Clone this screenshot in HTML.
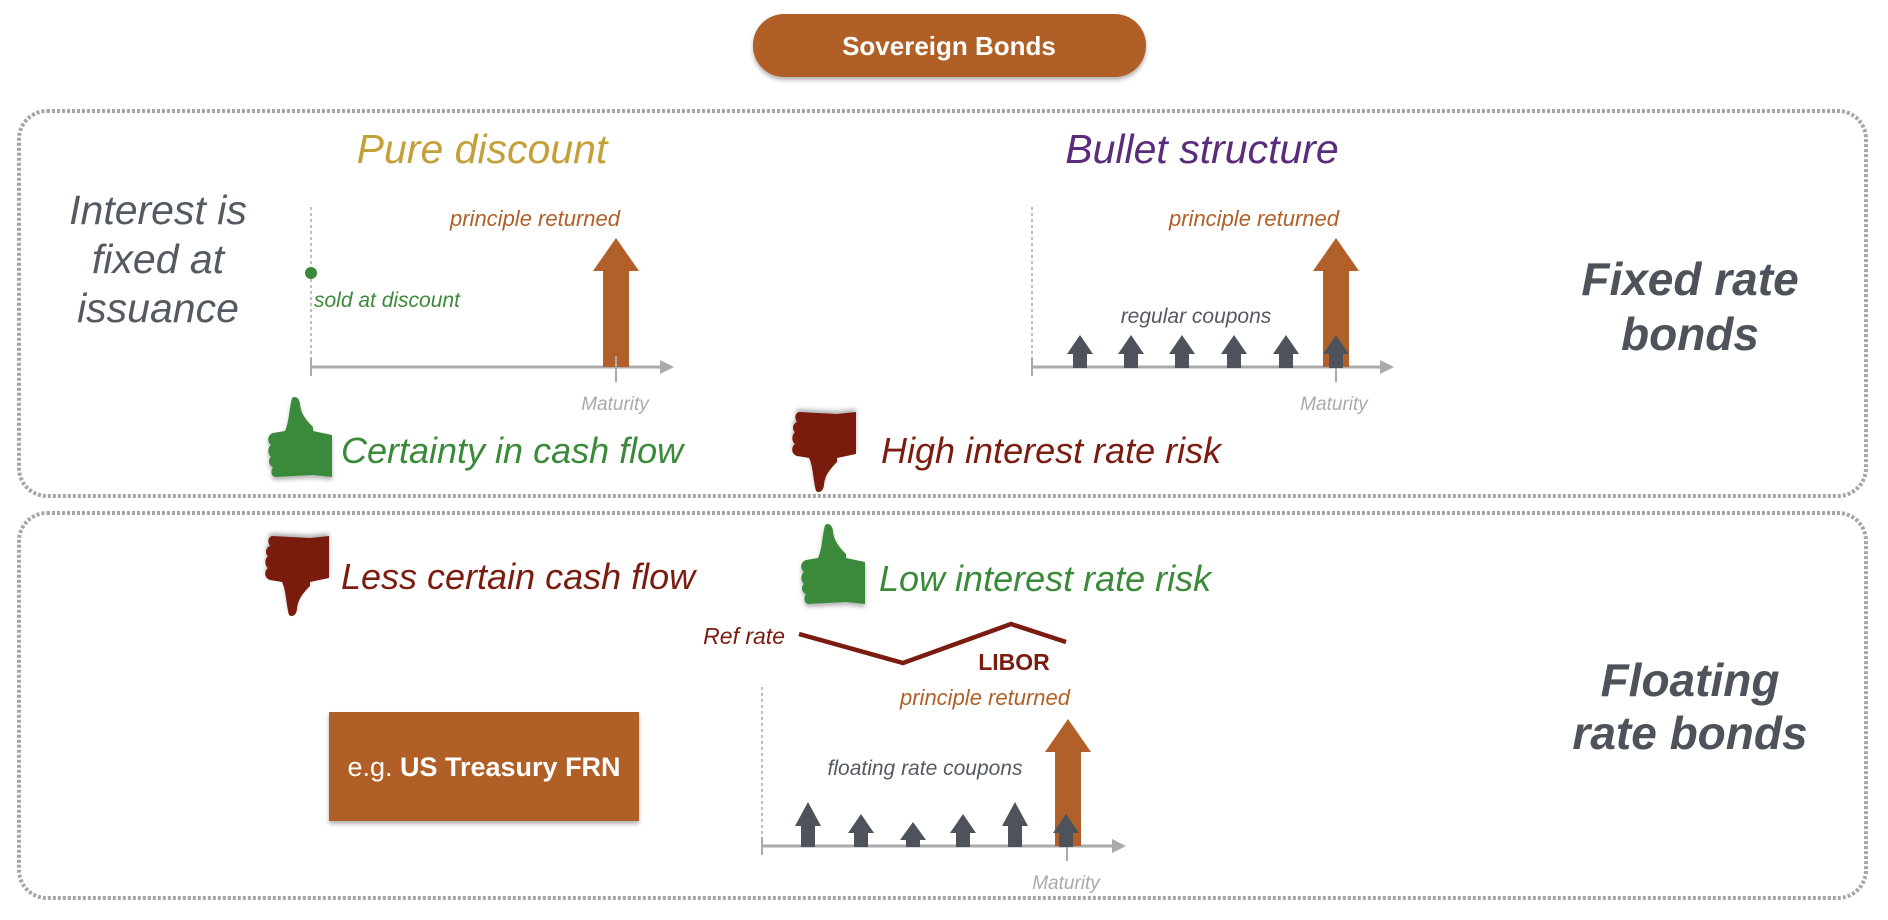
<!DOCTYPE html>
<html><head><meta charset="utf-8"><style>
html,body{margin:0;padding:0;background:#fff;}
svg{display:block;}
text{font-family:"Liberation Sans",Arial,sans-serif;}
.it{font-style:italic;}
</style></head><body>
<svg width="1888" height="920" viewBox="0 0 1888 920" xmlns="http://www.w3.org/2000/svg">
<defs>
<filter id="sh" x="-10%" y="-10%" width="120%" height="140%"><feDropShadow dx="0" dy="3" stdDeviation="2" flood-color="#000" flood-opacity="0.3"/></filter>
<path id="tup" d="M27,3 C31,0 35,4 35,10 C36,18 40,24 48,32 L48,36 L67,40 L67,82 L48,80 L10,82 C5,80 6,75 8,72 C3,70 3,64 6,62 C2,58 3,52 6,50 C2,47 2,40 8,38 L20,36 C24,28 24,15 27,3 Z"/>
<g id="coup"><polygon points="0,-33 13,-14 7,-14 7,0 -7,0 -7,-14 -13,-14" fill="#4e535b"/></g>
</defs>

<!-- title -->
<rect x="753" y="14" width="393" height="63" rx="31" fill="#b06028" filter="url(#sh)"/>
<text x="949" y="55" font-size="26" font-weight="bold" fill="#fff" text-anchor="middle">Sovereign Bonds</text>

<!-- boxes -->
<rect x="19" y="111" width="1847" height="385" rx="28" fill="none" stroke="#a6a6a6" stroke-width="4" stroke-dasharray="3 2"/>
<rect x="19" y="513" width="1847" height="385" rx="28" fill="none" stroke="#a6a6a6" stroke-width="4" stroke-dasharray="3 2"/>

<!-- top headings -->
<text x="482" y="163" class="it" font-size="41" fill="#c3a03a" text-anchor="middle">Pure discount</text>
<text x="1202" y="163" class="it" font-size="41" fill="#5a2d7c" text-anchor="middle">Bullet structure</text>
<g class="it" font-size="41" fill="#555a62" text-anchor="middle">
<text x="158" y="224">Interest is</text>
<text x="158" y="273">fixed at</text>
<text x="158" y="322">issuance</text>
</g>
<g font-weight="bold" class="it" font-size="46" fill="#4e535b" text-anchor="middle">
<text x="1690" y="295">Fixed rate</text>
<text x="1690" y="350">bonds</text>
<text x="1690" y="696">Floating</text>
<text x="1690" y="749">rate bonds</text>
</g>

<!-- pure discount chart -->
<line x1="311" y1="207" x2="311" y2="367" stroke="#aaa" stroke-width="1.5" stroke-dasharray="3 3"/>
<line x1="311" y1="367" x2="664" y2="367" stroke="#aaa" stroke-width="3"/>
<polygon points="674,367 660,360 660,374" fill="#aaa"/>
<line x1="311" y1="358" x2="311" y2="376" stroke="#aaa" stroke-width="2"/>
<polygon points="616,238 639,271 629,271 629,367 603,367 603,271 593,271" fill="#b06028"/>
<line x1="616" y1="356" x2="616" y2="382" stroke="#aaa" stroke-width="2"/>
<circle cx="311" cy="273" r="6" fill="#3a8a3a"/>
<text x="314" y="307" class="it" font-size="21" fill="#3a8a3a">sold at discount</text>
<text x="535" y="226" class="it" font-size="22" fill="#b06028" text-anchor="middle">principle returned</text>
<text x="615" y="410" class="it" font-size="19" fill="#aaa" text-anchor="middle">Maturity</text>

<!-- bullet chart -->
<line x1="1032" y1="207" x2="1032" y2="367" stroke="#aaa" stroke-width="1.5" stroke-dasharray="3 3"/>
<line x1="1032" y1="367" x2="1384" y2="367" stroke="#aaa" stroke-width="3"/>
<polygon points="1394,367 1380,360 1380,374" fill="#aaa"/>
<line x1="1032" y1="358" x2="1032" y2="376" stroke="#aaa" stroke-width="2"/>
<polygon points="1336,238 1359,271 1349,271 1349,367 1323,367 1323,271 1313,271" fill="#b06028"/>
<line x1="1336" y1="356" x2="1336" y2="382" stroke="#aaa" stroke-width="2"/>
<use href="#coup" x="1080" y="368"/><use href="#coup" x="1131" y="368"/><use href="#coup" x="1182" y="368"/>
<use href="#coup" x="1234" y="368"/><use href="#coup" x="1286" y="368"/><use href="#coup" x="1336" y="368"/>
<text x="1196" y="323" class="it" font-size="21" fill="#555a62" text-anchor="middle">regular coupons</text>
<text x="1254" y="226" class="it" font-size="22" fill="#b06028" text-anchor="middle">principle returned</text>
<text x="1334" y="410" class="it" font-size="19" fill="#aaa" text-anchor="middle">Maturity</text>

<!-- thumbs top -->
<use href="#tup" transform="translate(265,395)" fill="#3a8a3a" filter="url(#sh)"/>
<text x="341" y="463" class="it" font-size="36" fill="#3a8a3a">Certainty in cash flow</text>
<use href="#tup" transform="translate(789,494) scale(1,-1)" fill="#7a1c10" filter="url(#sh)"/>
<text x="881" y="463" class="it" font-size="36" fill="#7a1c10">High interest rate risk</text>

<!-- thumbs bottom -->
<use href="#tup" transform="translate(262,618) scale(1,-1)" fill="#7a1c10" filter="url(#sh)"/>
<text x="341" y="589" class="it" font-size="36" fill="#7a1c10">Less certain cash flow</text>
<use href="#tup" transform="translate(798,522)" fill="#3a8a3a" filter="url(#sh)"/>
<text x="879" y="591" class="it" font-size="36" fill="#3a8a3a">Low interest rate risk</text>

<!-- LIBOR -->
<text x="785" y="644" class="it" font-size="23" fill="#7a1c10" text-anchor="end">Ref rate</text>
<polyline points="799,634 903,663 1011,624 1066,642" fill="none" stroke="#7a1c10" stroke-width="4.5"/>
<text x="1014" y="670" font-size="23" font-weight="bold" fill="#7a1c10" text-anchor="middle">LIBOR</text>

<!-- FRN box -->
<rect x="329" y="712" width="310" height="109" fill="#b06028" filter="url(#sh)"/>
<text x="484" y="776" font-size="27" fill="#fff" text-anchor="middle">e.g. <tspan font-weight="bold">US Treasury FRN</tspan></text>

<!-- floating chart -->
<line x1="762" y1="687" x2="762" y2="846" stroke="#aaa" stroke-width="1.5" stroke-dasharray="3 3"/>
<line x1="762" y1="846" x2="1116" y2="846" stroke="#aaa" stroke-width="3"/>
<polygon points="1126,846 1112,839 1112,853" fill="#aaa"/>
<line x1="762" y1="837" x2="762" y2="855" stroke="#aaa" stroke-width="2"/>
<polygon points="1068,719 1091,752 1081,752 1081,846 1055,846 1055,752 1045,752" fill="#b06028"/>
<line x1="1067" y1="835" x2="1067" y2="861" stroke="#aaa" stroke-width="2"/>
<polygon points="808,802 821,826 815,826 815,847 801,847 801,826 795,826" fill="#4e535b"/>
<polygon points="861,814 874,833 868,833 868,847 854,847 854,833 848,833" fill="#4e535b"/>
<polygon points="913,822 926,840 920,840 920,847 906,847 906,840 900,840" fill="#4e535b"/>
<polygon points="963,814 976,833 970,833 970,847 956,847 956,833 950,833" fill="#4e535b"/>
<polygon points="1015,802 1028,826 1022,826 1022,847 1008,847 1008,826 1002,826" fill="#4e535b"/>
<polygon points="1066,814 1079,833 1073,833 1073,847 1059,847 1059,833 1053,833" fill="#4e535b"/>
<text x="925" y="775" class="it" font-size="21" fill="#555a62" text-anchor="middle">floating rate coupons</text>
<text x="985" y="705" class="it" font-size="22" fill="#b06028" text-anchor="middle">principle returned</text>
<text x="1066" y="889" class="it" font-size="19" fill="#aaa" text-anchor="middle">Maturity</text>
</svg>
</body></html>
